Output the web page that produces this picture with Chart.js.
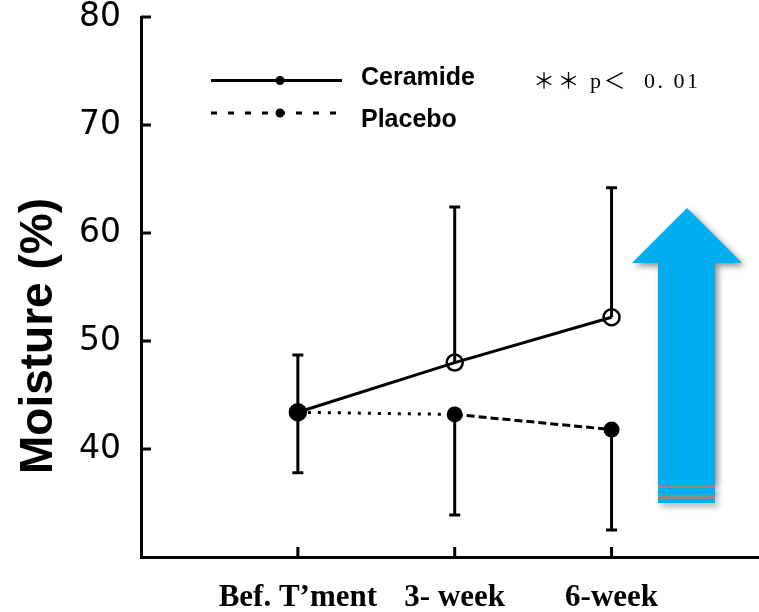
<!DOCTYPE html>
<html>
<head>
<meta charset="utf-8">
<script src="https://cdn.jsdelivr.net/npm/chart.js@4.4.1/dist/chart.umd.min.js"></script>
<style>
  html, body { margin: 0; padding: 0; background: #fff; }
  #wrap { width: 759px; height: 612px; }
</style>
</head>
<body>
<div id="wrap"><canvas id="moistChart" width="759" height="612"></canvas></div>
<script>
// --- data ---
const categories = ['Bef. T\u2019ment', '3- week', '6-week'];
const ceramide = [43.4, 48.0, 52.2];
const placebo = [43.4, 43.2, 41.8];
const ceramideUpper = [48.7, 62.4, 64.2];   // upper error bar ends
const placeboLower = [37.8, 33.9, 32.5];    // lower error bar ends
const yTicks = [40, 50, 60, 70, 80];
const yTitle = 'Moisture (%)';
const sigText = '\uFF0A\uFF0A p\uFF1C  0. 01';

const toPts = arr => arr.map((v, i) => ({ x: i + 1, y: v }));

// drop the label overhang padding so the plot box sits where the picture has it
const noPad = s => { s.paddingTop = 0; s.paddingBottom = 0; s.paddingLeft = 0; s.paddingRight = 0; };

// error bars, inward tick marks, legend, y title, arrow
const extras = {
    id: 'extras',
    beforeDatasetsDraw(chart) {
        const { ctx, scales: { x, y } } = chart;
        ctx.save();
        ctx.strokeStyle = '#000';
        ctx.lineWidth = 3;
        const bar = (i, from, to) => {
            const px = x.getPixelForValue(i + 1);
            const y0 = y.getPixelForValue(from), y1 = y.getPixelForValue(to);
            ctx.beginPath();
            ctx.moveTo(px, y0); ctx.lineTo(px, y1);
            ctx.moveTo(px - 5.5, y1); ctx.lineTo(px + 5.5, y1);
            ctx.stroke();
        };
        ceramideUpper.forEach((v, i) => bar(i, ceramide[i], v));
        placeboLower.forEach((v, i) => bar(i, placebo[i], v));
        ctx.restore();
    },
    afterDraw(chart) {
        const { ctx, chartArea, scales: { x, y } } = chart;
        ctx.save();
        // inward ticks
        ctx.strokeStyle = '#000';
        ctx.lineWidth = 3;
        ctx.beginPath();
        yTicks.forEach(v => {
            const py = y.getPixelForValue(v);
            ctx.moveTo(chartArea.left, py); ctx.lineTo(chartArea.left + 10, py);
        });
        categories.forEach((c, i) => {
            const px = x.getPixelForValue(i + 1);
            ctx.moveTo(px, chartArea.bottom); ctx.lineTo(px, chartArea.bottom - 10);
        });
        ctx.stroke();

        // legend
        const lx0 = 211, lx1 = 342, dotX = 280;
        ctx.lineWidth = 3;
        ctx.beginPath(); ctx.moveTo(lx0, 80.5); ctx.lineTo(lx1, 80.5); ctx.stroke();
        ctx.setLineDash([6, 11]);
        ctx.beginPath(); ctx.moveTo(lx0, 113); ctx.lineTo(lx1, 113); ctx.stroke();
        ctx.setLineDash([]);
        ctx.fillStyle = '#000';
        [80.5, 113].forEach(ly => {
            ctx.beginPath(); ctx.arc(dotX, ly, 4.5, 0, Math.PI * 2); ctx.fill();
        });
        ctx.font = 'bold 25px "Liberation Sans", Arial, sans-serif';
        ctx.textBaseline = 'middle';
        ctx.textAlign = 'left';
        ctx.fillText(chart.data.datasets[0].label, 361, 78);
        ctx.fillText(chart.data.datasets[1].label, 361, 120);
        ctx.font = '22px "Liberation Serif", "Noto Sans CJK JP", serif';
        ctx.letterSpacing = '2.5px';
        ctx.fillText(sigText, 533, 82);
        ctx.letterSpacing = '0px';

        // y axis title
        ctx.save();
        ctx.translate(39, 336);
        ctx.rotate(-Math.PI / 2);
        ctx.textAlign = 'center';
        ctx.font = 'bold 46px "Liberation Sans", Arial, sans-serif';
        ctx.fillText(yTitle, 0, 0);
        ctx.restore();

        // blue arrow
        ctx.save();
        ctx.shadowColor = 'rgba(0,0,0,0.45)';
        ctx.shadowBlur = 6;
        ctx.shadowOffsetX = 3;
        ctx.shadowOffsetY = 3;
        ctx.fillStyle = '#00AEEF';
        ctx.beginPath();
        ctx.moveTo(687, 208);
        ctx.lineTo(742, 263);
        ctx.lineTo(715, 263);
        ctx.lineTo(715, 485);
        ctx.lineTo(658, 485);
        ctx.lineTo(658, 263);
        ctx.lineTo(632, 263);
        ctx.closePath();
        ctx.fill();
        ctx.fillRect(658, 488, 57, 7);
        ctx.fillRect(658, 499, 57, 4);
        ctx.restore();
        ctx.fillStyle = '#8a8a8a';
        ctx.fillRect(658, 485, 57, 3);
        ctx.fillRect(658, 495, 57, 4);
        ctx.restore();
    }
};

const ctx = document.getElementById('moistChart').getContext('2d');
const moistChart = new Chart(ctx, {
    type: 'line',
    data: {
        datasets: [
            {
                label: 'Ceramide',
                data: toPts(ceramide),
                borderColor: '#000',
                borderWidth: 3,
                pointRadius: 8,
                pointBorderWidth: 2.5,
                pointBorderColor: '#000',
                pointBackgroundColor: ['#000', 'rgba(0,0,0,0)', 'rgba(0,0,0,0)'],
                tension: 0
            },
            {
                label: 'Placebo',
                data: toPts(placebo),
                borderColor: '#000',
                borderWidth: 3,
                pointRadius: 8,
                pointBorderWidth: 0,
                pointBackgroundColor: '#000',
                tension: 0,
                segment: {
                    borderDash: c => c.p0DataIndex === 0 ? [3, 7] : [8, 4]
                }
            }
        ]
    },
    options: {
        responsive: false,
        animation: false,
        layout: { autoPadding: false, padding: { top: 17, right: 0, left: 0, bottom: 0 } },
        plugins: { legend: { display: false }, tooltip: { enabled: false } },
        scales: {
            x: {
                type: 'linear',
                min: 0, max: 3.94,
                afterBuildTicks: s => { s.ticks = categories.map((c, i) => ({ value: i + 1 })); },
                afterFit: s => { s.height = 55; noPad(s); },
                grid: { display: false, drawTicks: false },
                border: { display: true, color: '#000', width: 3 },
                ticks: {
                    color: '#000',
                    padding: 22,
                    maxRotation: 0,
                    font: { family: '"Liberation Serif", "Times New Roman", serif', size: 31, weight: 'bold' },
                    callback: v => categories[v - 1]
                }
            },
            y: {
                min: 30, max: 80,
                afterBuildTicks: s => { s.ticks = yTicks.map(v => ({ value: v })); },
                afterFit: s => { s.width = 141; noPad(s); },
                grid: { display: false, drawTicks: false },
                border: { display: true, color: '#000', width: 3 },
                ticks: {
                    color: '#000',
                    padding: 20,
                    font: { family: '"DejaVu Sans", sans-serif', size: 33, lineHeight: 1.0 }
                }
            }
        }
    },
    plugins: [extras]
});
</script>
</body>
</html>
